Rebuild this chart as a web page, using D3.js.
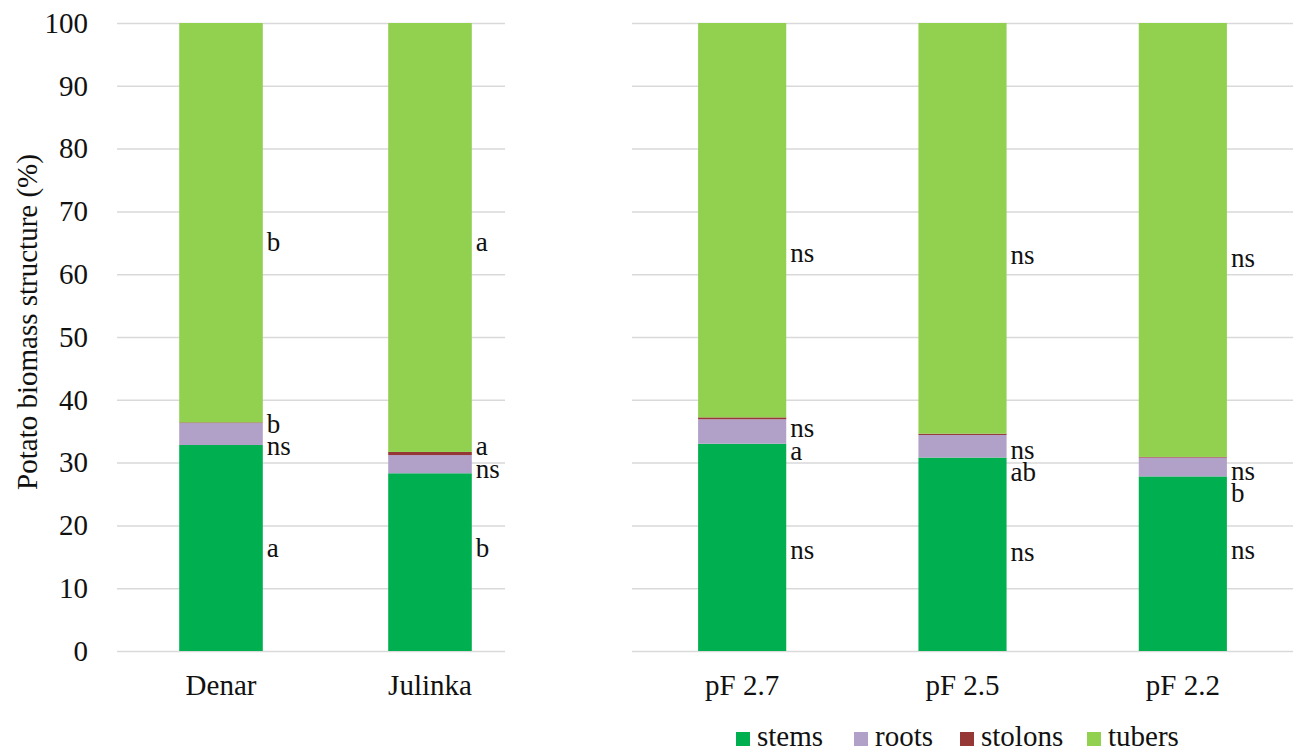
<!DOCTYPE html>
<html>
<head>
<meta charset="utf-8">
<script src="https://cdn.jsdelivr.net/npm/d3@7"></script>
<style>
  html, body { margin: 0; padding: 0; background: #fff; }
  svg { display: block; }
  svg text { font-family: "Liberation Serif", "Times New Roman", serif; fill: #111; }
</style>
</head>
<body>
<svg id="chart" width="1302" height="751"></svg>
<script>
// Cultivar panel and soil-moisture panel
const cultivars = ["Denar", "Julinka"];
const moisture = ["pF 2.7", "pF 2.5", "pF 2.2"];

// Biomass shares (%), order: Denar, Julinka, pF 2.7, pF 2.5, pF 2.2
const stems   = [32.8, 28.3, 33.0, 30.8, 27.8];
const roots   = [3.5, 2.9, 3.9, 3.6, 3.0];
const stolons = [0.1, 0.5, 0.3, 0.2, 0.1];
const tubers  = [63.6, 68.3, 62.8, 65.4, 69.1];

// Significance letters for each fraction
const stemLetters   = ["a", "b", "ns", "ns", "ns"];
const rootLetters   = ["ns", "ns", "a", "ab", "b"];
const stolonLetters = ["b", "a", "ns", "ns", "ns"];
const tuberLetters  = ["b", "a", "ns", "ns", "ns"];

const yTicks = [0, 10, 20, 30, 40, 50, 60, 70, 80, 90, 100];

const seriesNames = ["stems", "roots", "stolons", "tubers"];
const seriesColors = ["#00b050", "#b1a0c7", "#953735", "#92d050"];

// Annotation anchors (baseline, in % units) for the letter labels
const stemLabelAt   = [15.0, 15.0, 14.6, 14.3, 14.6];
const rootLabelAt   = [31.2, 27.5, 30.4, 27.1, 23.7];
const stolonLabelAt = [34.7, 31.2, 34.1, 30.6, 27.2];
const tuberLabelAt  = [63.7, 63.7, 61.9, 61.6, 61.1];

const svg = d3.select("#chart");
const FONT = 29;
const LETTER_FONT = 27;

const y = d3.scaleLinear().domain([0, 100]).range([651, 23]);

const panels = [
  { cats: cultivars, offset: 0, range: [116.5, 534.5], gridFrom: 117, gridTo: 505, labels: true },
  { cats: moisture, offset: cultivars.length, range: [632, 1293], gridFrom: 632, gridTo: 1293, labels: false }
];

const stackKeys = ["stems", "roots", "stolons", "tubers"];

panels.forEach(p => {
  const x = d3.scaleBand().domain(p.cats).range(p.range).paddingInner(0.6).paddingOuter(0.3);

  // gridlines (+ tick labels on the first panel)
  const axis = d3.axisLeft(y).tickValues(yTicks)
    .tickSize(-(p.gridTo - p.gridFrom))
    .tickPadding(29)
    .tickFormat(p.labels ? d3.format("d") : () => "");
  const g = svg.append("g").attr("transform", `translate(${p.gridFrom},0)`).call(axis)
    .attr("font-family", null).attr("font-size", FONT);
  g.select(".domain").remove();
  g.selectAll(".tick line").attr("stroke", "#d9d9d9").attr("stroke-width", 1.5);

  // stacked bars
  const rows = p.cats.map((c, i) => {
    const k = p.offset + i;
    return { cat: c, k, stems: stems[k], roots: roots[k], stolons: stolons[k], tubers: tubers[k] };
  });
  const stacked = d3.stack().keys(stackKeys)(rows);
  stacked.forEach((layer, li) => {
    svg.append("g").selectAll("rect").data(layer).join("rect")
      .attr("x", d => x(d.data.cat))
      .attr("width", x.bandwidth())
      .attr("y", d => y(d[1]))
      .attr("height", d => y(d[0]) - y(d[1]))
      .attr("fill", seriesColors[li]);
  });

  // category labels
  svg.append("g").selectAll("text").data(p.cats).join("text")
    .attr("x", d => x(d) + x.bandwidth() / 2)
    .attr("y", 695)
    .attr("text-anchor", "middle")
    .attr("font-size", FONT)
    .text(d => d);

  // significance letters
  const letterSets = [
    [stemLetters, stemLabelAt],
    [rootLetters, rootLabelAt],
    [stolonLetters, stolonLabelAt],
    [tuberLetters, tuberLabelAt]
  ];
  letterSets.forEach(([letters, at]) => {
    svg.append("g").selectAll("text").data(rows).join("text")
      .attr("x", d => x(d.cat) + x.bandwidth() + 4)
      .attr("y", d => y(at[d.k]))
      .attr("font-size", LETTER_FONT)
      .text(d => letters[d.k]);
  });
});

// y-axis title
svg.append("text")
  .attr("transform", "translate(37,322) rotate(-90)")
  .attr("text-anchor", "middle")
  .attr("font-size", FONT)
  .text("Potato biomass structure (%)");

// legend
const legendX = [736, 854, 960, 1087];
const legend = svg.append("g");
seriesNames.forEach((name, i) => {
  legend.append("rect")
    .attr("x", legendX[i]).attr("y", 732)
    .attr("width", 14).attr("height", 14)
    .attr("fill", seriesColors[i]);
  legend.append("text")
    .attr("x", legendX[i] + 21).attr("y", 746)
    .attr("font-size", FONT)
    .text(name);
});
</script>
</body>
</html>
